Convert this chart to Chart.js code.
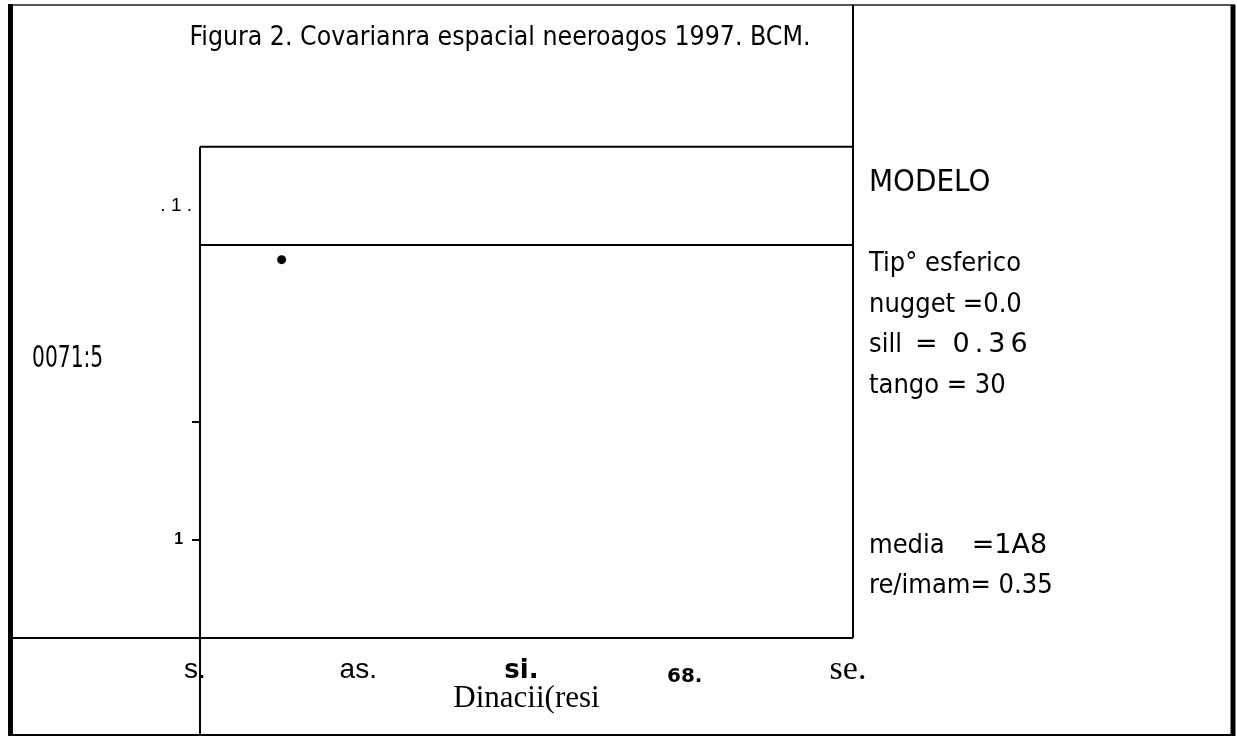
<!DOCTYPE html>
<html>
<head>
<meta charset="utf-8">
<title>Figura 2</title>
<script src="https://cdn.jsdelivr.net/npm/chart.js@4.4.0/dist/chart.umd.min.js"></script>
<style>
  html, body { margin: 0; padding: 0; background: #fff; }
  #chart { display: block; }
</style>
</head>
<body>
<canvas id="chart" width="1237" height="736"></canvas>
<script>
// data
const lagDistance = [12.5];
const covariance = [0.385];

const xTickValues = [0, 25, 50, 75, 100];
const xTickLabels = ['s.', 'as.', 'si.', '68.', 'se.'];

const yTickValues = [0.10, 0.22, 0.40, 0.44];
const yTickLabels = ['1  ', '', '', '. 1 .'];

const titleText = 'Figura 2. Covarianra espacial neeroagos 1997. BCM.';
const xTitleText = 'Dinacii(resi';
const yTitleText = '0071:5';

// text of the model box; 'wide' parts are set in a wider face
const modelHeading = 'MODELO';
const modelLines = [
    [['Tip° esferico']],
    [['nugget =0.0']],
    [['sill'], ['=', 'wide', 13], ['0.36', 'spaced', 15]],
    [['tango = 30']]
];
const statsLines = [
    [['media'], ['=1A8', 'wide', 27]],
    [['re/imam= 0.35']]
];

const COND = "'DejaVu Sans Condensed', sans-serif";
const SANS = "Arial, 'Liberation Sans', sans-serif";

// fonts of the x tick labels, one per tick
const xTickFonts = [
    { family: SANS, size: 28 },
    { family: SANS, size: 28 },
    { family: "'DejaVu Sans'", size: 26, weight: 'bold', lineHeight: 1.4 },
    { family: "'DejaVu Sans'", size: 20, weight: 'bold', lineHeight: 2.4 },
    { family: "'Liberation Serif', serif", size: 34, lineHeight: 1.0 }
];

// frame lines and the free text around the plot
const framePlugin = {
    id: 'frame',
    afterDraw(chart) {
        const ctx = chart.ctx;
        const a = chart.chartArea;
        const W = chart.width, H = chart.height;
        ctx.save();
        ctx.lineWidth = 2;
        const line = (x1, y1, x2, y2) => {
            ctx.beginPath();
            ctx.moveTo(x1, y1);
            ctx.lineTo(x2, y2);
            ctx.stroke();
        };
        // outer frame
        ctx.strokeStyle = '#555';
        line(8, 5, W - 2, 5);
        ctx.strokeStyle = '#000';
        line(8, H - 1, W - 2, H - 1);
        ctx.lineWidth = 5;
        line(10.5, 4, 10.5, H);
        line(W - 4, 5, W - 4, H);
        // inner boxes
        ctx.lineWidth = 2;
        line(a.left, a.top, a.left, H);
        line(a.left, a.top, a.right, a.top);
        line(a.right, 5, a.right, a.bottom);
        line(10, a.bottom, a.right, a.bottom);

        ctx.fillStyle = '#000';
        ctx.textBaseline = 'alphabetic';
        ctx.textAlign = 'left';

        // y title, written flat and squeezed
        ctx.save();
        ctx.translate(32, 367);
        ctx.scale(0.75, 1);
        ctx.font = '30px ' + COND;
        ctx.fillText(yTitleText, 0, 0);
        ctx.restore();

        // model box
        const x0 = a.right + 16;
        ctx.font = '31px ' + COND;
        ctx.fillText(modelHeading, x0, 191);
        const drawLine = (segs, y) => {
            let x = x0;
            segs.forEach(([txt, kind, gap]) => {
                if (kind === 'wide' || kind === 'spaced') {
                    ctx.font = '27px "DejaVu Sans"';
                    ctx.letterSpacing = kind === 'spaced' ? '5px' : '0px';
                } else {
                    ctx.font = '27px ' + COND;
                    ctx.letterSpacing = '0px';
                }
                x += gap || 0;
                ctx.fillText(txt, x, y);
                x += ctx.measureText(txt).width;
            });
            ctx.letterSpacing = '0px';
        };
        modelLines.forEach((segs, i) => drawLine(segs, 271 + i * 40.5));
        statsLines.forEach((segs, i) => drawLine(segs, 553 + i * 40));
        ctx.restore();
    }
};

const ctx = document.getElementById('chart').getContext('2d');

const chart = new Chart(ctx, {
    type: 'scatter',
    data: {
        datasets: [{
            data: lagDistance.map((x, i) => ({ x: x, y: covariance[i] })),
            backgroundColor: '#000',
            borderWidth: 0,
            pointRadius: 4.5
        }]
    },
    options: {
        responsive: false,
        animation: false,
        layout: { padding: { left: 147, right: 384, top: 0, bottom: 0 } },
        plugins: {
            legend: { display: false },
            tooltip: { enabled: false },
            title: {
                display: true,
                text: titleText,
                color: '#000',
                font: { family: COND, size: 26.4, weight: 'normal' },
                padding: { top: 22, bottom: 93 }
            }
        },
        scales: {
            x: {
                type: 'linear',
                min: 0,
                max: 100,
                afterBuildTicks: s => { s.ticks = xTickValues.map(v => ({ value: v })); },
                afterFit: s => { s.height = 98; },
                grid: { display: false },
                border: { display: false },
                ticks: {
                    autoSkip: false,
                    maxRotation: 0,
                    padding: 7,
                    labelOffset: -5,
                    color: '#000',
                    font: c => xTickFonts[c.index] || xTickFonts[0],
                    callback: (v, i) => xTickLabels[i]
                },
                title: {
                    display: true,
                    text: xTitleText,
                    color: '#000',
                    font: { family: "'Liberation Serif', serif", size: 31 },
                    padding: { top: 0, bottom: 19 }
                }
            },
            y: {
                type: 'linear',
                min: 0,
                max: 0.5,
                afterBuildTicks: s => { s.ticks = yTickValues.map(v => ({ value: v })); },
                afterFit: s => { s.width = 53; },
                border: { display: false },
                grid: {
                    lineWidth: 2,
                    tickLength: 8,
                    color: c => (c.tick && c.tick.value === 0.40) ? '#000' : 'rgba(0,0,0,0)',
                    tickColor: c => (c.tick && c.tick.value < 0.3) ? '#000' : 'rgba(0,0,0,0)'
                },
                ticks: {
                    autoSkip: false,
                    padding: 0,
                    color: '#000',
                    font: c => c.index === 0
                        ? { family: SANS, size: 16, weight: 'bold' }
                        : { family: SANS, size: 19 },
                    callback: (v, i) => yTickLabels[i]
                }
            }
        }
    },
    plugins: [framePlugin]
});
</script>
</body>
</html>
